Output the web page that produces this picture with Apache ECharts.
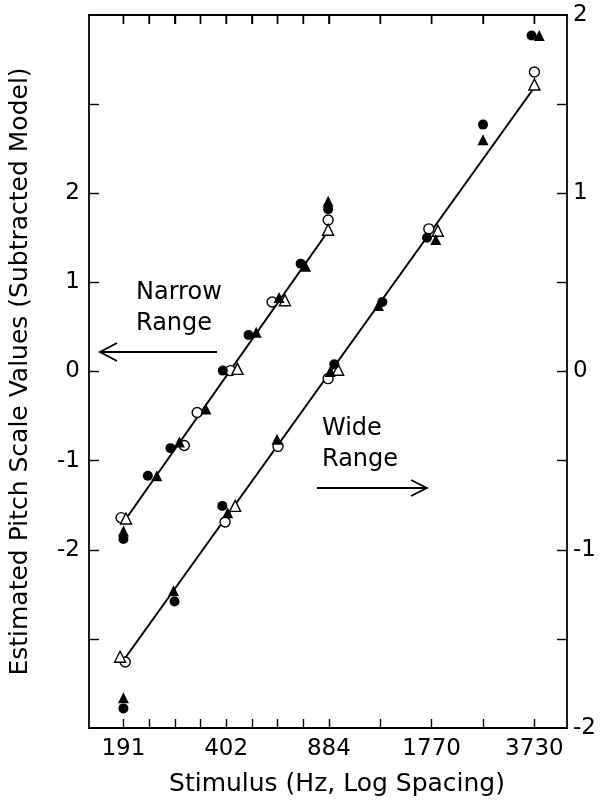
<!DOCTYPE html>
<html>
<head>
<meta charset="utf-8">
<script src="https://cdn.jsdelivr.net/npm/echarts@6/dist/echarts.min.js"></script>
<style>
html, body { margin: 0; background: #fff; }
#chart { width: 605px; height: 802px; }
</style>
</head>
<body>
<div id="chart"></div>
<script>
// x is in stimulus steps on the log scale: 0 = 191 Hz, 4 = 402, 8 = 884, 12 = 1770, 16 = 3730
var tickSteps = [0, 4, 8, 12, 16];
var tickLabels = ['191', '402', '884', '1770', '3730'];
var stimulusSteps = [0, 1, 2, 3, 4, 5, 6, 7, 8, 10, 12, 14, 16];
var leftLabels = [-2, -1, 0, 1, 2];
var leftTicks = [-3, -2, -1, 0, 1, 2, 3];
var rightLabels = [-2, -1, 0, 1, 2];
var rightTicks = [-1.5, -1, -0.5, 0, 0.5, 1, 1.5];

// narrow range (left scale)
var narrowFilledCircle = [[0, -1.88], [0.95, -1.17], [1.83, -0.86], [3.87, 0.01], [4.87, 0.41], [6.9, 1.21], [7.97, 1.82]];
var narrowFilledTriangle = [[0, -1.79], [1.3, -1.17], [2.18, -0.79], [3.21, -0.42], [5.17, 0.44], [6.06, 0.83], [7.09, 1.18], [7.97, 1.91]];
var narrowOpenCircle = [[-0.09, -1.64], [2.37, -0.83], [2.87, -0.46], [4.17, 0.01], [5.79, 0.78], [7.97, 1.70]];
var narrowOpenTriangle = [[0.1, -1.65], [4.44, 0.03], [6.29, 0.8], [7.97, 1.59]];
var narrowFit = [[0.18, -1.62], [7.97, 1.575]];

// wide range (right scale)
var wideFilledCircle = [[0, -1.89], [1.99, -1.29], [3.85, -0.754], [8.21, 0.04], [10.08, 0.39], [11.82, 0.75], [14, 1.385], [15.89, 1.885]];
var wideFilledTriangle = [[0, -1.83], [1.95, -1.23], [4.06, -0.793], [5.98, -0.38], [8.05, 0.0], [9.93, 0.37], [12.16, 0.74], [14, 1.3], [16.19, 1.885]];
var wideOpenCircle = [[0.07, -1.63], [3.96, -0.844], [6.02, -0.42], [7.97, -0.04], [11.89, 0.8], [16, 1.68]];
var wideOpenTriangle = [[-0.13, -1.6], [4.35, -0.754], [8.36, 0.01], [12.24, 0.79], [16, 1.61]];
var wideFit = [[0.03, -1.615], [15.93, 1.58]];

var font = 'DejaVu Sans';
var black = '#000';
var yTop = 4;

function marks(data, axis, shape, filled) {
    return {
        type: 'scatter',
        yAxisIndex: axis,
        data: data,
        symbol: shape,
        symbolSize: shape === 'circle' ? 10 : 11,
        z: filled ? 4 : 3,
        itemStyle: filled
            ? { color: black, opacity: 1 }
            : { color: '#fff', borderColor: black, borderWidth: 1.4, opacity: 1 }
    };
}

function fitLine(data, axis) {
    return {
        type: 'line',
        yAxisIndex: axis,
        data: data,
        symbol: 'none',
        z: 2,
        lineStyle: { color: black, width: 1.8 }
    };
}

var chart = echarts.init(document.getElementById('chart'));

chart.setOption({
    animation: false,
    backgroundColor: '#fff',
    grid: { left: 83, right: 38, top: 15, bottom: 71 },
    xAxis: [
        {
            type: 'value',
            position: 'bottom',
            min: -1.34,
            max: 17.27,
            z: 10,
            splitLine: { show: false },
            axisLine: { onZero: false, lineStyle: { color: black, width: 1.8 } },
            axisTick: { show: true, inside: true, length: 9, lineStyle: { color: black, width: 1.4 }, customValues: stimulusSteps },
            axisLabel: {
                customValues: tickSteps,
                margin: 10,
                fontFamily: font,
                fontSize: 23,
                color: black,
                formatter: function (v) { return tickLabels[tickSteps.indexOf(v)]; }
            },
            name: 'Stimulus (Hz, Log Spacing)',
            nameLocation: 'middle',
            nameGap: 44,
            nameTextStyle: { fontFamily: font, fontSize: 25, color: black, padding: [0, 0, 0, 18] }
        },
        {
            type: 'value',
            position: 'top',
            min: -1.34,
            max: 17.27,
            z: 10,
            splitLine: { show: false },
            axisLine: { onZero: false, lineStyle: { color: black, width: 1.8 } },
            axisTick: { show: true, inside: true, length: 9, lineStyle: { color: black, width: 1.4 }, customValues: stimulusSteps },
            axisLabel: { show: false }
        }
    ],
    yAxis: [
        {
            type: 'value',
            position: 'left',
            min: -4,
            max: yTop,
            z: 10,
            splitLine: { show: false },
            name: 'Estimated Pitch Scale Values (Subtracted Model)',
            nameLocation: 'middle',
            nameGap: 56,
            nameTextStyle: { fontFamily: font, fontSize: 25, color: black },
            axisLine: { show: true, onZero: false, lineStyle: { color: black, width: 1.8 } },
            axisTick: { show: true, inside: true, length: 10, lineStyle: { color: black, width: 1.4 }, customValues: leftTicks },
            axisLabel: { customValues: leftLabels, margin: 9, fontFamily: font, fontSize: 23, color: black }
        },
        {
            type: 'value',
            position: 'right',
            min: -2,
            max: 2,
            z: 10,
            splitLine: { show: false },
            axisLine: { show: true, onZero: false, lineStyle: { color: black, width: 1.8 } },
            axisTick: { show: true, inside: true, length: 10, lineStyle: { color: black, width: 1.4 }, customValues: rightTicks },
            axisLabel: { customValues: rightLabels, margin: 6, fontFamily: font, fontSize: 23, color: black }
        }
    ],
    series: [
        {
            // tick marks hanging from the top frame at each stimulus step
            type: 'scatter',
            data: stimulusSteps.map(function (s) { return [s, yTop - 0.05]; }),
            symbol: 'rect',
            symbolSize: [1.4, 9],
            silent: true,
            clip: false,
            z: 10,
            itemStyle: { color: black, opacity: 1 }
        },
        fitLine(narrowFit, 0),
        fitLine(wideFit, 1),
        marks(narrowOpenCircle, 0, 'circle', false),
        marks(narrowOpenTriangle, 0, 'triangle', false),
        marks(narrowFilledCircle, 0, 'circle', true),
        marks(narrowFilledTriangle, 0, 'triangle', true),
        marks(wideOpenCircle, 1, 'circle', false),
        marks(wideOpenTriangle, 1, 'triangle', false),
        marks(wideFilledCircle, 1, 'circle', true),
        marks(wideFilledTriangle, 1, 'triangle', true)
    ],
    graphic: [
        { type: 'text', x: 136, y: 293, style: { text: 'Narrow', fontFamily: font, fontSize: 24, fill: black, textVerticalAlign: 'middle' } },
        { type: 'text', x: 136, y: 324, style: { text: 'Range', fontFamily: font, fontSize: 24, fill: black, textVerticalAlign: 'middle' } },
        { type: 'polyline', shape: { points: [[217, 352], [101, 352]] }, style: { stroke: black, lineWidth: 1.8 } },
        { type: 'polyline', shape: { points: [[117, 343], [100, 352], [117, 361]] }, style: { stroke: black, lineWidth: 1.8, fill: null } },
        { type: 'text', x: 322, y: 429, style: { text: 'Wide', fontFamily: font, fontSize: 24, fill: black, textVerticalAlign: 'middle' } },
        { type: 'text', x: 322, y: 460, style: { text: 'Range', fontFamily: font, fontSize: 24, fill: black, textVerticalAlign: 'middle' } },
        { type: 'polyline', shape: { points: [[317, 488], [426, 488]] }, style: { stroke: black, lineWidth: 1.8 } },
        { type: 'polyline', shape: { points: [[411, 480], [427, 488], [411, 496]] }, style: { stroke: black, lineWidth: 1.8, fill: null } }
    ]
});
</script>
</body>
</html>
